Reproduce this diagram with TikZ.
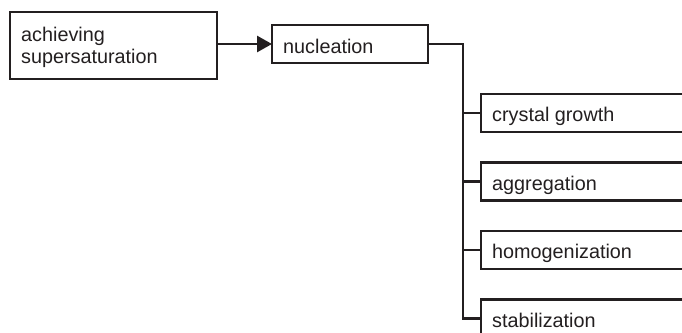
\documentclass[tikz,border=0pt]{standalone}
\usepackage{fontspec}
\setmainfont{Liberation Sans}
\usetikzlibrary{arrows.meta}
\definecolor{ink}{RGB}{35,31,32}
\begin{document}
\begin{tikzpicture}[x=1pt,y=-1pt,
  box/.style={draw=ink, line width=2.8pt, fill=white, rectangle, inner sep=0pt, outer sep=0pt},
  lbl/.style={text=ink, inner sep=0pt, anchor=base west, align=left, font=\fontsize{19.8}{22}\selectfont},
  conn/.style={draw=ink, line width=2.8pt}]
\useasboundingbox (0,0) rectangle (682,332);
\begin{scope}
\clip (0,0) rectangle (682,332);
\node[box, minimum width=207pt, minimum height=67pt, anchor=north west] (ach) at (10,12) {};
\node[box, minimum width=156pt, minimum height=38pt, anchor=north west] (nuc) at (272,25) {};
\node[box, minimum width=230pt, minimum height=38pt, anchor=west] (cg) at (481,113) {};
\node[box, minimum width=230pt, minimum height=38pt, anchor=west] (agg) at (481,181.5) {};
\node[box, minimum width=230pt, minimum height=38pt, anchor=west] (hom) at (481,250) {};
\node[box, minimum width=230pt, minimum height=38pt, anchor=west] (stab) at (481,318.5) {};
\node[lbl] (achT) at (21,63) {achieving\\supersaturation};
\node[lbl] (nucT) at (283,53) {nucleation};
\node[lbl] (cgT) at (492,121) {crystal growth};
\node[lbl] (aggT) at (492,190) {aggregation};
\node[lbl] (homT) at (492,258.5) {homogenization};
\node[lbl] (stabT) at (492,327) {stabilization};
\coordinate (trunk) at ([xshift=35pt]nuc.east);
\draw[conn, -{Triangle[length=15pt,width=16pt]}] (ach.east |- nuc.west) -- (nuc.west);
\draw[conn, line join=miter] (nuc.east) -- (trunk) |- (stab.west);
\draw[conn] (trunk |- cg.west) -- (cg.west);
\draw[conn] (trunk |- agg.west) -- (agg.west);
\draw[conn] (trunk |- hom.west) -- (hom.west);
\end{scope}
\end{tikzpicture}
\end{document}
